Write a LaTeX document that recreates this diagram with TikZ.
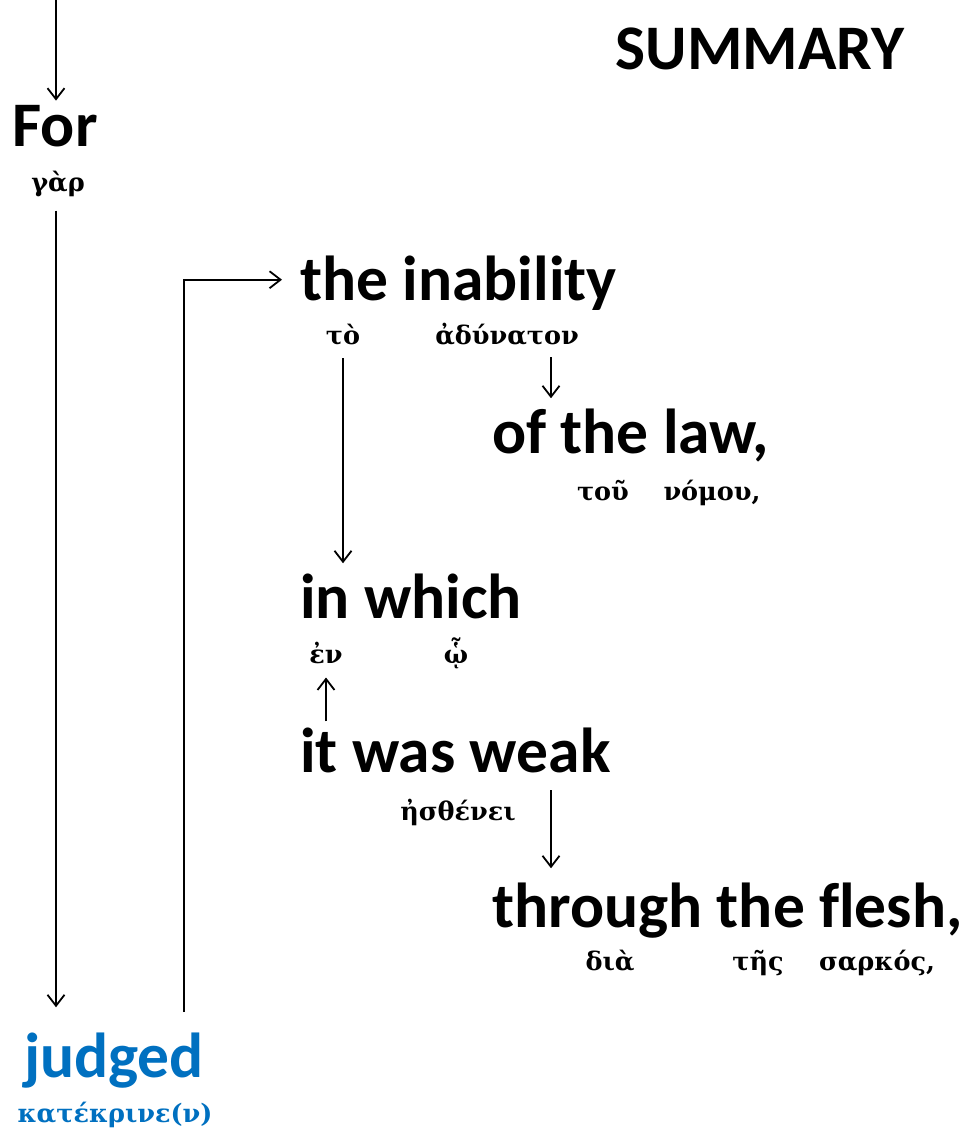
\documentclass[tikz,border=0pt]{standalone}
\usepackage{fontspec}
\setmainfont[Ligatures=NoCommon]{Carlito}
\newfontfamily\grk{DejaVu Serif}
\usetikzlibrary{arrows.meta,calc}
\definecolor{vblue}{RGB}{0,112,192}
\tikzset{
  en/.style={inner sep=0pt, font=\fontsize{63.5}{63.5}\selectfont\bfseries},
  gr/.style={inner sep=0pt, font=\fontsize{25.5}{25.5}\grk\bfseries},
  arr/.style={line width=1.8pt, -{Straight Barb[length=11pt,width=17pt,line width=1.8pt]}},
  ln/.style={line width=1.8pt}
}
\begin{document}
\begin{tikzpicture}[x=1pt,y=-1pt]
\useasboundingbox (0,0) rectangle (965,1134);
% texts
\node[en, anchor=base] (summary) at (760,70) {SUMMARY};
\node[en, anchor=base] (for) at (55,147) {For};
\node[gr, anchor=base] (gar) at (58,192) {γὰρ};
\node[en, anchor=base west] (inab) at (300,300) {the inability};
\node[gr, anchor=base] (to) at (343,344) {τὸ};
\node[gr, anchor=base] (adu) at (507,344) {ἀδύνατον};
\node[en, anchor=base west] (law) at (492,453) {of the law,};
\node[gr, anchor=base] (tou) at (603,500) {τοῦ};
\node[gr, anchor=base] (nomou) at (712,500) {νόμου,};
\node[en, anchor=base west] (which) at (300,618) {in which};
\node[gr, anchor=base] (ev) at (326,663) {ἐν};
\node[gr, anchor=base] (hw) at (456,663) {ᾧ};
\node[en, anchor=base west] (weak) at (300,772) {it was weak};
\node[gr, anchor=base] (esth) at (458,820) {ἠσθένει};
\node[en, anchor=base west] (flesh) at (492,927) {through the flesh,};
\node[gr, anchor=base] (dia) at (610,970) {διὰ};
\node[gr, anchor=base] (tes) at (758,970) {τῆς};
\node[gr, anchor=base] (sarkos) at (877,970) {σαρκός,};
\node[en, anchor=base, text=vblue] (judged) at (114,1077) {judged};
\node[gr, anchor=base, text=vblue] (kat) at (115,1122) {κατέκρινε(ν)};
% connector endpoints
\coordinate (top) at (56,0);
\coordinate (jt) at (184,1012);
\coordinate (c1) at (551,357);
\coordinate (c2) at (551,790);
% connectors
\draw[arr, shorten >=5pt] (top) -- (for.north -| top);
\draw[arr, shorten <=13pt, shorten >=25pt] (gar.south -| top) -- (judged.north -| top);
\draw[arr, shorten >=18pt] (jt) |- ($(inab.west)+(0,-3)$);
\draw[arr, shorten <=13pt, shorten >=10pt] (to.south) -- (to.south |- which.north);
\draw[arr, shorten >=10pt] (c1) -- (c1 |- law.north);
\draw[arr, shorten <=6pt, shorten >=14pt] (ev.south |- weak.north) -- (ev.south);
\draw[arr, shorten >=14pt] (c2) -- (c2 |- flesh.north);
\end{tikzpicture}
\end{document}
